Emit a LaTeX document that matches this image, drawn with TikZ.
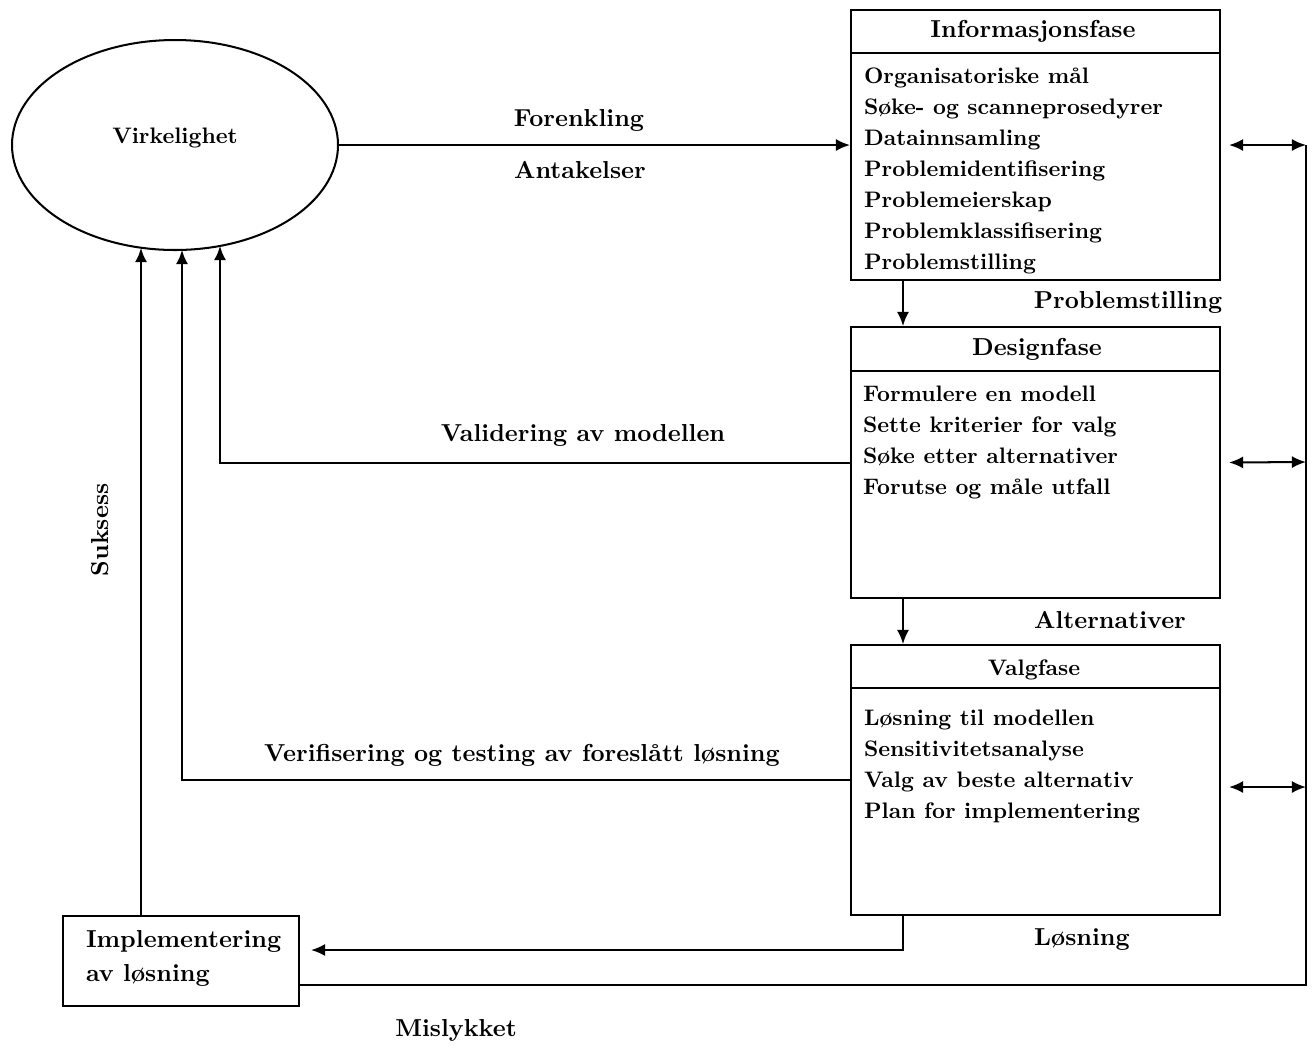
\documentclass[tikz,border=0pt]{standalone}
\usepackage{fontspec}
\usetikzlibrary{arrows.meta,calc,shapes.geometric}
\newdimen\px \px=0.446pt
\begin{document}
\begin{tikzpicture}[x=0.446pt,y=-0.446pt,
  line width=0.9pt,
  tip/.style={-{Latex[length=6.3pt,width=5.4pt]}},
  both/.style={{Latex[length=6.3pt,width=5.4pt]}-{Latex[length=6.3pt,width=5.4pt]}},
  phase/.style={draw, minimum width=369\px, minimum height=270\px, inner sep=0pt},
  body/.style={font=\fontsize{10}{13.8}\selectfont\bfseries, align=left, anchor=north west, inner sep=0pt},
  ttl/.style={font=\fontsize{10.95}{13}\selectfont\bfseries, inner sep=0pt},
  ttlsmall/.style={font=\fontsize{10}{12}\selectfont\bfseries, inner sep=0pt},
  lbl/.style={font=\fontsize{10.95}{13}\selectfont\bfseries, inner sep=0pt}]
\useasboundingbox (0,0) rectangle (1315,1047);

% reality
\node[draw, ellipse, minimum width=326\px, minimum height=210\px, inner sep=0pt] (real) at (175,145) {};
\node[ttlsmall] (realt) at (175,138) {Virkelighet};

% the three phases
\node[phase] (info) at (1035.5,145) {};
\node[phase, minimum height=271\px] (design) at (1035.5,462.5) {};
\node[phase] (valg) at (1035.5,780) {};
\draw ($(info.north west)+(0,44)$) -- ($(info.north east)+(0,44)$);
\draw ($(design.north west)+(0,45)$) -- ($(design.north east)+(0,45)$);
\draw ($(valg.north west)+(0,44)$) -- ($(valg.north east)+(0,44)$);

\node[ttl] (infot) at (1033,31) {Informasjonsfase};
\node[ttl] (designt) at (1037,349) {Designfase};
\node[ttlsmall] (valgt) at (1034,670) {Valgfase};

\node[body] (infob) at (863,67) {Organisatoriske mål\\Søke- og scanneprosedyrer\\Datainnsamling\\Problemidentifisering\\Problemeierskap\\Problemklassifisering\\Problemstilling};
\node[body] (designb) at (862,385) {Formulere en modell\\Sette kriterier for valg\\Søke etter alternativer\\Forutse og måle utfall};
\node[body] (valgb) at (863,709) {Løsning til modellen\\Sensitivitetsanalyse\\Valg av beste alternativ\\Plan for implementering};

% implementation
\node[draw, minimum width=236\px, minimum height=90\px, inner sep=0pt] (impl) at (181,961) {};
\node[font=\fontsize{10.95}{15.2}\selectfont\bfseries, align=left, anchor=north west, inner sep=0pt]
  (implt) at (85,929) {Implementering\\av løsning};

% labels
\node[lbl] (forenkling) at (579,120) {Forenkling};
\node[lbl] (antakelser) at (580,170) {Antakelser};
\node[lbl] (valid) at (583,435) {Validering av modellen};
\node[lbl] (verif) at (522,755) {Verifisering og testing av foreslått løsning};
\node[lbl, rotate=90] (suksess) at (100,530) {Suksess};
\node[lbl] (probl) at (1128,302) {Problemstilling};
\node[lbl] (altern) at (1110,620) {Alternativer};
\node[lbl] (losn) at (1082,940) {Løsning};
\node[lbl] (misl) at (456,1030) {Mislykket};

% points on the ellipse and on the right-hand return line
\coordinate (e1) at (141,248);
\coordinate (e2) at (182,250);
\coordinate (e3) at (220,246);
\coordinate (r1) at (1306,145);
\coordinate (r2) at (1306,462);
\coordinate (r3) at (1306,787);
\coordinate (r4) at (1306,985);

% connectors
\draw[tip] (real.east) -- (info.west);
\draw[tip] ($(info.south west)+(53,0)$) -- ($(design.north west)+(53,0)$);
\draw[tip] ($(design.south west)+(53,0)$) -- ($(valg.north west)+(53,0)$);
\draw[tip] (design.west) -| (e3);
\draw[tip] (valg.west) -| (e2);
\draw[tip] (e1 |- impl.north) -- (e1);
\draw[tip] ($(valg.south west)+(53,0)$) |- ($(impl.east)+(11,-11)$);
\draw (r4 -| impl.east) -- (r4) -- (r1);
\draw[both] ($(info.east)+(8,0)$) -- (r1);
\draw[both] ($(design.east)+(8,0)$) -- (r2);
\draw[both] ($(valg.east)+(8,7)$) -- (r3);
\end{tikzpicture}
\end{document}
